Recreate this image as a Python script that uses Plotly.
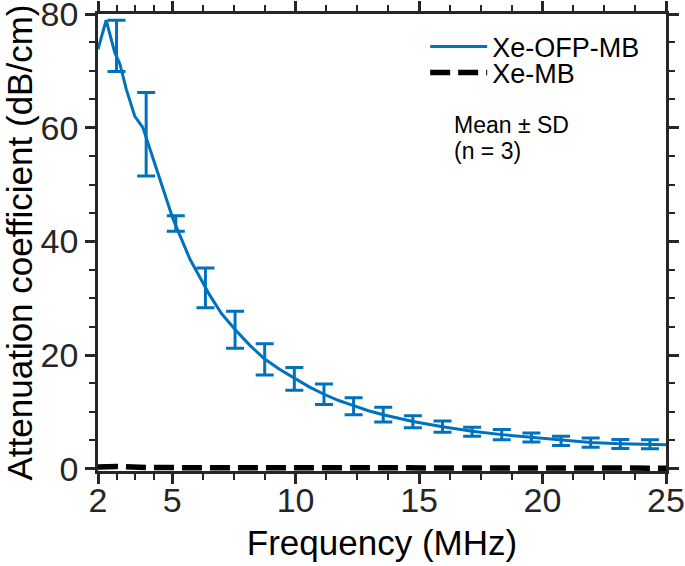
import plotly.graph_objects as go

# Xe-OFP-MB mean curve (frequency in MHz, attenuation in dB/cm)
curve_freq = [2.0, 2.33, 2.68, 2.88, 3.15, 3.49, 3.82, 4.5, 5.04, 5.72, 6.53, 7.0, 7.55, 8.15, 8.75,
              9.35, 9.95, 10.55, 11.15, 11.75, 12.35, 12.95, 13.55, 14.75, 15.95, 17.15, 18.35,
              19.55, 20.75, 21.95, 23.15, 24.35, 25.0]
curve_val = [73.8, 78.9, 73.2, 71.3, 66.7, 62.0, 60.0, 50.9, 43.9, 36.9, 30.5, 27.3, 24.5, 21.7, 19.3,
             17.5, 15.9, 14.4, 13.1, 12.0, 11.1, 10.2, 9.5, 8.3, 7.4, 6.6, 6.0,
             5.5, 5.0, 4.6, 4.4, 4.3, 4.2]

# Error bar positions (MHz), means and SDs
eb_freq = [2.75, 3.95, 5.15, 6.35, 7.55, 8.75, 9.95, 11.15, 12.35, 13.55, 14.75, 15.95,
           17.15, 18.35, 19.55, 20.75, 21.95, 23.15, 24.35]
eb_mean = [74.4, 58.85, 43.15, 31.8, 24.45, 19.25, 15.8, 13.1, 11.0, 9.5, 8.25, 7.4,
           6.5, 6.0, 5.5, 4.9, 4.6, 4.35, 4.3]
eb_sd = [4.5, 7.35, 1.35, 3.5, 3.25, 2.75, 2.0, 1.8, 1.5, 1.3, 1.05, 1.0,
         0.8, 0.9, 0.8, 0.8, 0.8, 0.8, 0.8]

# Xe-MB curve
mb_freq = [2.0, 2.75, 3.95, 5.15, 6.35, 7.55, 8.75, 9.95, 11.15, 12.35, 13.55, 14.75, 15.95,
           17.15, 18.35, 19.55, 20.75, 21.95, 23.15, 24.35, 25.0]
mb_val = [0.3, 0.4, 0.2, 0.2, 0.2, 0.1, 0.2, 0.2, 0.3, 0.2, 0.2, 0.2, 0.1,
          0.2, 0.2, 0.1, 0.1, 0.1, 0.1, 0.1, 0.1]

x_major = [2, 5, 10, 15, 20, 25]
x_minor = [2.75, 3.5, 4.25, 6.25, 7.5, 8.75, 11.25, 12.5, 13.75, 16.25, 17.5, 18.75, 21.25, 22.5, 23.75]
y_major = [0, 20, 40, 60, 80]

BLUE = "#0072BD"
AX = "#262626"
FONT = "Liberation Sans, Arial, Helvetica, sans-serif"

fig = go.Figure()
fig.add_trace(go.Scatter(x=curve_freq, y=curve_val, mode="lines", name="Xe-OFP-MB",
                         line=dict(color=BLUE, width=3), legend="legend"))
fig.add_trace(go.Scatter(x=mb_freq, y=mb_val, mode="lines", name="Xe-MB",
                         line=dict(color="black", width=5.5, dash="20px,8px"), legend="legend2"))
fig.add_trace(go.Scatter(x=eb_freq, y=eb_mean, mode="markers", showlegend=False,
                         marker=dict(size=0.1, color=BLUE),
                         error_y=dict(type="data", array=eb_sd, color=BLUE, thickness=3, width=9)))

axis_common = dict(showline=True, linecolor=AX, linewidth=2.5, mirror="ticks",
                   ticks="outside", ticklen=10, tickwidth=2.5, tickcolor=AX,
                   showgrid=False, zeroline=False, automargin=False,
                   ticklabeloverflow="allow",
                   tickfont=dict(family=FONT, size=34, color=AX))

fig.update_xaxes(range=[2, 25], tickmode="array", tickvals=x_major, ticktext=[str(v) for v in x_major],
                 minor=dict(tickmode="array", tickvals=x_minor, ticks="outside", ticklen=6,
                            tickwidth=2, tickcolor=AX),
                 ticklabelstandoff=-13,
                 title=dict(text="Frequency (MHz)", font=dict(family=FONT, size=35, color="black"), standoff=13),
                 **axis_common)
fig.update_yaxes(range=[-0.4, 80], tickmode="array", tickvals=y_major, ticktext=[str(v) for v in y_major],
                 minor=dict(dtick=5, tick0=0, ticks="outside", ticklen=6, tickwidth=2, tickcolor=AX),
                 ticklabelstandoff=0,
                 title=dict(text="Attenuation coefficient (dB/cm)", font=dict(family=FONT, size=35, color="black"),
                            standoff=0),
                 **axis_common)

fig.add_annotation(x=0.623, y=0.758, xref="paper", yref="paper", xanchor="left", yanchor="middle",
                   text="Mean ± SD", showarrow=False, align="left",
                   font=dict(family=FONT, size=23, color="black"))
fig.add_annotation(x=0.623, y=0.701, xref="paper", yref="paper", xanchor="left", yanchor="middle",
                   text="(n = 3)", showarrow=False, align="left",
                   font=dict(family=FONT, size=23, color="black"))

leg_common = dict(xanchor="left", yanchor="middle", bgcolor="rgba(0,0,0,0)",
                  font=dict(family=FONT, size=27, color="black"), itemwidth=57)

fig.update_layout(
    width=685, height=566,
    margin=dict(l=98, r=19, t=14, b=95),
    paper_bgcolor="white", plot_bgcolor="white",
    showlegend=True,
    legend=dict(x=0.576, y=0.928, **leg_common),
    legend2=dict(x=0.576, y=0.871, **leg_common),
)

# remove the default 8px page margin so the figure fills the window exactly
fig.write_html("out.html", config={"displayModeBar": False},
               post_script="document.body.style.margin='0';")
